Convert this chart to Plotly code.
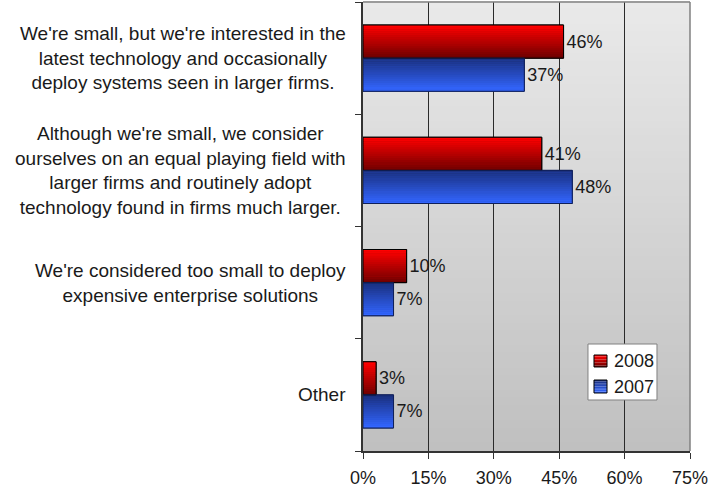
import plotly.graph_objects as go

# Survey responses (share of respondents, %)
categories = [
    "We're small, but we're interested in the<br>latest technology and occasionally<br>deploy systems seen in larger firms.",
    "Although we're small, we consider<br>ourselves on an equal playing field with<br>larger firms and routinely adopt<br>technology found in firms much larger.",
    "We're considered too small to deploy<br>expensive enterprise solutions",
    "Other",
]
values_2008 = [46, 41, 10, 3]
values_2007 = [37, 48, 7, 7]
x_ticks = [0, 15, 30, 45, 60, 75]

FONT = "Liberation Sans, Arial, sans-serif"
BAR_W = 0.295
N_SLICES = 16

positions = list(range(len(categories)))


def lerp(c1, c2, t):
    return "rgb({},{},{})".format(*[round(a + (b - a) * t) for a, b in zip(c1, c2)])


series = [
    # name, values, offset, top colour, bottom colour, outline colour
    ("2008", values_2008, -BAR_W, (255, 0, 0), (112, 0, 0), "#000000"),
    ("2007", values_2007, 0.0, (26, 48, 128), (51, 102, 255), "#10205a"),
]

fig = go.Figure()

# solid base bars
for name, vals, off, top, bot, edge in series:
    fig.add_trace(go.Bar(
        x=vals, y=positions, orientation="h", name=name, showlegend=False,
        offset=off, width=BAR_W,
        marker=dict(color=lerp(top, bot, 0.5), line=dict(color=edge, width=1)),
        hoverinfo="skip",
    ))

# vertical colour gradient made of thin horizontal slices
for name, vals, off, top, bot, edge in series:
    sw = BAR_W / N_SLICES
    for i in range(N_SLICES):
        fig.add_trace(go.Bar(
            x=vals, y=positions, orientation="h", showlegend=False,
            offset=off + i * sw, width=sw * 1.08 if i < N_SLICES - 1 else sw,
            marker=dict(color=lerp(top, bot, i / (N_SLICES - 1)), line=dict(width=0)),
            hoverinfo="skip",
        ))

# outlines and value labels
for name, vals, off, top, bot, edge in series:
    fig.add_trace(go.Bar(
        x=vals, y=positions, orientation="h", showlegend=False,
        offset=off, width=BAR_W,
        marker=dict(color="rgba(0,0,0,0)", line=dict(color=edge, width=1)),
        text=[f"{v}%" for v in vals], textposition="outside",
        textfont=dict(family=FONT, size=18, color="#1a1a1a"),
        cliponaxis=False, constraintext="none",
        hovertemplate=name + ": %{x}%<extra></extra>",
    ))

# grey gradient plot background
shapes = []
N_BG = 60
for i in range(N_BG):
    t = i / (N_BG - 1)
    shapes.append(dict(
        type="rect", xref="x domain", yref="y domain", layer="below",
        x0=0, x1=1, y0=1 - (i + 1) / N_BG, y1=1 - i / N_BG + 0.002,
        fillcolor=lerp((233, 233, 233), (192, 192, 192), t), line=dict(width=0),
    ))
# top and right frame
shapes.append(dict(type="line", xref="x domain", yref="y domain", x0=0, x1=1, y0=1, y1=1,
                   line=dict(color="#808080", width=1.5), layer="above"))
shapes.append(dict(type="line", xref="x domain", yref="y domain", x0=1, x1=1, y0=0, y1=1,
                   line=dict(color="#808080", width=1.5), layer="above"))

# centred multi-line category labels
annotations = [
    dict(text=c, x=0, xref="x domain", y=p, yref="y", xanchor="right", yanchor="middle",
         xshift=-15, align="center", showarrow=False,
         font=dict(family=FONT, size=19, color="#1a1a1a"))
    for c, p in zip(categories, positions)
]

# legend box with gradient swatches
LEG_BOX = dict(x0=0.688, x1=0.899, y0=0.1136, y1=0.2383)
SW_X = (0.7064, 0.7462)
swatch_rows = [(0.1871, 0.2138, 0.2004), (0.1292, 0.1581, 0.1425)]
shapes.append(dict(type="rect", xref="paper", yref="paper", layer="above",
                   fillcolor="white", line=dict(color="#808080", width=1), **LEG_BOX))
for (name, vals, off, top, bot, edge), (sy0, sy1, ty) in zip(series, swatch_rows):
    n = 8
    for i in range(n):
        shapes.append(dict(
            type="rect", xref="paper", yref="paper", layer="above",
            x0=SW_X[0], x1=SW_X[1],
            y0=sy1 - (i + 1) * (sy1 - sy0) / n, y1=sy1 - i * (sy1 - sy0) / n,
            fillcolor=lerp(top, bot, i / (n - 1)), line=dict(width=0),
        ))
    shapes.append(dict(type="rect", xref="paper", yref="paper", layer="above",
                       x0=SW_X[0], x1=SW_X[1], y0=sy0, y1=sy1,
                       line=dict(color="#000000", width=1)))
    annotations.append(dict(
        text=name, xref="paper", yref="paper", x=0.7615, y=ty,
        xanchor="left", yanchor="middle", showarrow=False,
        font=dict(family=FONT, size=18, color="#1a1a1a"),
    ))

fig.update_layout(
    width=724, height=491,
    margin=dict(l=363, r=34, t=2, b=40),
    paper_bgcolor="white", plot_bgcolor="#d8d8d8",
    barmode="overlay", showlegend=False,
    shapes=shapes, annotations=annotations,
    font=dict(family=FONT, size=18, color="#1a1a1a"),
    xaxis=dict(
        range=[0, 75], tickvals=x_ticks, ticktext=[f"{t}%" for t in x_ticks],
        showgrid=True, gridcolor="#2a2a2a", gridwidth=1,
        showline=True, linecolor="#333333", linewidth=1.5,
        ticks="outside", ticklen=6, tickcolor="#333333", ticklabelstandoff=4,
        zeroline=False, fixedrange=True, automargin=False,
        tickfont=dict(family=FONT, size=18, color="#1a1a1a"),
    ),
    yaxis=dict(
        range=[3.5, -0.5], tickvals=[-0.5, 0.5, 1.5, 2.5, 3.5], ticktext=[""] * 5,
        showgrid=False, showline=True, linecolor="#333333", linewidth=1.5,
        ticks="outside", ticklen=6, tickcolor="#333333",
        zeroline=False, fixedrange=True, automargin=False,
    ),
)

fig.write_html("out.html")
